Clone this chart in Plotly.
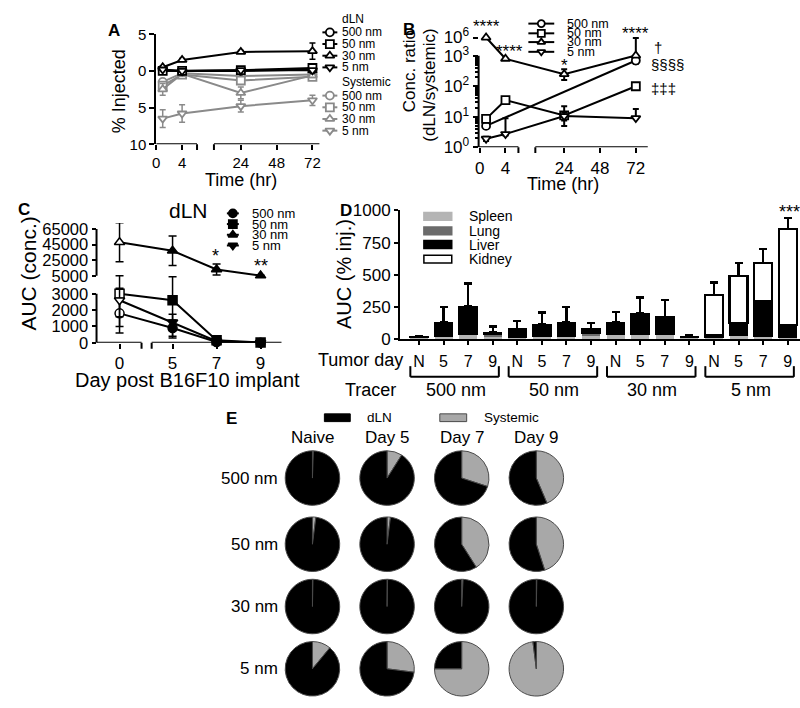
import math
import plotly.graph_objects as go

W, H = 800, 708
FONT = "Liberation Sans, Arial, Helvetica, sans-serif"
GRAY = "#8a8a8a"

# ---------------- DATA ----------------
sizes = ["500 nm", "50 nm", "30 nm", "5 nm"]
symbols = ["circle", "square", "triangle-up", "triangle-down"]

# Panel A: % injected (dLN up, systemic drawn downward)
a_hours = [1, 4, 24, 72]
a_dln_500 = [0.1, 0.0, 0.0, 0.2]
a_dln_50 = [0.0, 0.0, 0.1, 0.4]
a_dln_30 = [0.5, 1.5, 2.6, 2.7]
a_dln_5 = [0.2, 0.0, 0.1, 0.1]
a_dln_err_500 = [0.1, 0.1, 0.1, 0.2]
a_dln_err_50 = [0.1, 0.1, 0.1, 0.2]
a_dln_err_30 = [0.2, 0.2, 0.2, 1.1]
a_dln_err_5 = [0.1, 0.1, 0.1, 0.1]
a_sys_500 = [-1.5, -0.3, -0.7, -0.5]
a_sys_50 = [-2.0, -0.5, -1.3, -0.8]
a_sys_30 = [-2.5, -0.4, -3.0, -0.6]
a_sys_5 = [-6.5, -5.8, -4.8, -4.0]
a_sys_err_500 = [0.4, 0.2, 0.3, 0.3]
a_sys_err_50 = [0.5, 0.2, 0.5, 0.3]
a_sys_err_30 = [0.8, 0.3, 0.8, 0.3]
a_sys_err_5 = [1.2, 1.2, 0.8, 0.7]

# Panel B: concentration ratio dLN/systemic
b_hours = [1, 4, 24, 72]
b_500 = [5, None, None, 700]
b_50 = [8.5, 35, 11, 100]
b_30 = [1e6, 800, 250, 1100]
b_5 = [1.9, 2.7, 10.5, 9]
b_hi_500 = [1, 0, 0, 150]
b_lo_500 = [1, 0, 0, 150]
b_hi_50 = [2, 6, 11, 20]
b_lo_50 = [2, 6, 6, 20]
b_hi_30 = [0, 0, 110, 8e5]
b_lo_30 = [0, 0, 90, 0]
b_hi_5 = [0.3, 6.3, 3, 9]
b_lo_5 = [0.3, 0.3, 3, 0]
b_stars = ["****", "****", "*", "****"]

# Panel C: AUC in dLN by tumor day
c_days = [0, 5, 7, 9]
c_500 = [1800, 900, 50, 10]
c_50 = [3000, 2600, 150, 20]
c_30 = [48000, 37000, 13000, 5200]
c_5 = [2600, 1250, 100, 10]
c_err_500 = [1200, 500, 50, 5]
c_err_50 = [2000, 2300, 100, 10]
c_err_30 = [25000, 19000, 7000, 300]
c_err_5 = [1000, 500, 60, 5]

# Panel D: organ AUC (stacked)
d_tracers = ["500 nm", "50 nm", "30 nm", "5 nm"]
d_days = ["N", "5", "7", "9"]
d_spleen = [6, 18, 30, 15, 10, 12, 12, 20, 30, 35, 35, 8, 8, 20, 12, 10]
d_lung = [4, 5, 5, 20, 5, 5, 5, 25, 5, 5, 5, 4, 4, 5, 5, 5]
d_liver = [10, 106, 217, 15, 61, 97, 112, 31, 94, 157, 132, 8, 18, 101, 281, 94]
d_kidney = [None] * 12 + [310, 361, 295, 744]
d_liver_err = [5, 118, 180, 46, 63, 91, 118, 50, 81, 126, 131, 13, 8, 71, 151, 70]
d_kidney_err = [None] * 12 + [99, 101, 104, 89]

# Panel E: % systemic share of the tracer (rest = dLN)
e_cols = ["Naive", "Day 5", "Day 7", "Day 9"]
e_sys_500 = [0.5, 9, 30, 43.6]
e_sys_50 = [2, 2, 41, 45]
e_sys_30 = [0.3, 0.3, 0.8, 0.3]
e_sys_5 = [11, 27, 75, 98]

# ---------------- HELPERS ----------------
def px_x(px):
    return px / W


def px_y(py):
    return 1 - py / H


def T(t):  # broken time axis (panels A, B), units = pixels
    return 6.5 * t if t <= 6.2 else 85 + 1.5 * (t - 24)


def b_y(v):  # broken log axis of panel B
    L = math.log10(v)
    return L if L <= 3 else 3 + (L - 3) * 0.2


def c_y(v):  # broken linear axis of panel C
    if v <= 3000:
        return v / 1000
    if v < 5000:
        return 3 + (v - 3000) / 2000 * 1.1
    return 4.1 + (v - 5000) * 2.86 / 60000


def c_x(d):  # broken day axis of panel C
    return d * 10 if d < 2.5 else 53 + (d - 5) * 22


def tr_err(fn, vals, hi, lo):
    plus, minus = [], []
    for v, h, l in zip(vals, hi, lo):
        if v is None:
            plus.append(0)
            minus.append(0)
            continue
        plus.append(fn(v + h) - fn(v))
        minus.append(fn(v) - fn(max(v - l, 1e-9)) if l > 0 else 0)
    return plus, minus


fig = go.Figure()
annotations = []
shapes = []


def txt(text, px, py, size, xanchor="center", yanchor="middle", angle=0, color="black"):
    annotations.append(dict(text=text, x=px_x(px), y=px_y(py), xref="paper", yref="paper",
                            showarrow=False, xanchor=xanchor, yanchor=yanchor, textangle=angle,
                            font=dict(family=FONT, size=size, color=color)))


def seg(xref, yref, x0, y0, x1, y1, width=2, color="black"):
    shapes.append(dict(type="line", xref=xref, yref=yref, x0=x0, y0=y0, x1=x1, y1=y1,
                       line=dict(color=color, width=width)))


def axis(**kw):
    base = dict(showgrid=False, zeroline=False, ticks="outside", tickwidth=2, ticklen=5,
                tickcolor="black", linecolor="black", linewidth=2, showline=False,
                tickfont=dict(family=FONT, size=15, color="black"), fixedrange=True)
    base.update(kw)
    return base


# ---------------- PANEL A ----------------
ax_x = [T(t) for t in a_hours]
for vals, err, sym in zip([a_sys_500, a_sys_50, a_sys_30, a_sys_5],
                          [a_sys_err_500, a_sys_err_50, a_sys_err_30, a_sys_err_5], symbols):
    fig.add_trace(go.Scatter(x=ax_x, y=vals, mode="lines+markers", xaxis="x", yaxis="y",
                             line=dict(color=GRAY, width=2), cliponaxis=False, showlegend=False,
                             marker=dict(symbol=sym, size=8, color="white", line=dict(color=GRAY, width=1.8)),
                             error_y=dict(type="data", array=err, color=GRAY, thickness=1.5, width=3)))
for vals, err, sym in zip([a_dln_500, a_dln_50, a_dln_30, a_dln_5],
                          [a_dln_err_500, a_dln_err_50, a_dln_err_30, a_dln_err_5], symbols):
    fig.add_trace(go.Scatter(x=ax_x, y=vals, mode="lines+markers", xaxis="x", yaxis="y",
                             line=dict(color="black", width=2), cliponaxis=False, showlegend=False,
                             marker=dict(symbol=sym, size=8, color="white", line=dict(color="black", width=1.8)),
                             error_y=dict(type="data", array=err, color="black", thickness=1.5, width=3)))

# ---------------- PANEL B ----------------
bx = [T(t) for t in b_hours]
for vals, hi, lo, sym in zip([b_500, b_50, b_30, b_5], [b_hi_500, b_hi_50, b_hi_30, b_hi_5],
                             [b_lo_500, b_lo_50, b_lo_30, b_lo_5], symbols):
    plus, minus = tr_err(b_y, vals, hi, lo)
    fig.add_trace(go.Scatter(x=bx, y=[None if v is None else b_y(v) for v in vals],
                             mode="lines+markers", xaxis="x2", yaxis="y2", connectgaps=True,
                             line=dict(color="black", width=2), cliponaxis=False, showlegend=False,
                             marker=dict(symbol=sym, size=8, color="white", line=dict(color="black", width=1.8)),
                             error_y=dict(type="data", symmetric=False, array=plus, arrayminus=minus,
                                          color="black", thickness=2, width=3)))

# ---------------- PANEL C ----------------
cx = [c_x(d) for d in c_days]
for vals, err, sym in zip([c_500, c_50, c_30, c_5], [c_err_500, c_err_50, c_err_30, c_err_5], symbols):
    plus, minus = tr_err(c_y, vals, err, err)
    fig.add_trace(go.Scatter(x=cx, y=[c_y(v) for v in vals], mode="lines+markers", xaxis="x3", yaxis="y3",
                             line=dict(color="black", width=2), cliponaxis=False, showlegend=False,
                             marker=dict(symbol=sym, size=9, color=["white", "black", "black", "black"],
                                         line=dict(color="black", width=1.5)),
                             error_y=dict(type="data", symmetric=False, array=plus, arrayminus=minus,
                                          color="black", thickness=1.5, width=4)))

# ---------------- PANEL D ----------------
d_x = list(range(len(d_spleen)))
zeros = [0] * len(d_x)
fig.add_trace(go.Bar(x=d_x, y=d_spleen, xaxis="x4", yaxis="y4", marker=dict(color="#b5b5b5", line=dict(width=0)),
                     showlegend=False))
fig.add_trace(go.Bar(x=d_x, y=d_lung, xaxis="x4", yaxis="y4", marker=dict(color="#6b6b6b", line=dict(width=0)),
                     showlegend=False))
fig.add_trace(go.Bar(x=d_x, y=d_liver, xaxis="x4", yaxis="y4",
                     marker=dict(color="black", line=dict(color="black", width=1.5)), showlegend=False,
                     error_y=dict(type="data", symmetric=False, array=d_liver_err, arrayminus=zeros,
                                  color="black", thickness=2.2, width=4)))
fig.add_trace(go.Bar(x=d_x, y=d_kidney, xaxis="x4", yaxis="y4",
                     marker=dict(color="white", line=dict(color="black", width=2.2)), showlegend=False,
                     error_y=dict(type="data", symmetric=False, array=d_kidney_err, arrayminus=zeros,
                                  color="black", thickness=2.2, width=4)))

# ---------------- PANEL E ----------------
e_rows_px = [482, 550, 614, 678]
e_cols_px = [310, 385, 460, 535]
R = 28
for rvals, cy in zip([e_sys_500, e_sys_50, e_sys_30, e_sys_5], e_rows_px):
    for sysv, cxp in zip(rvals, e_cols_px):
        fig.add_trace(go.Pie(values=[sysv, 100 - sysv], labels=["Systemic", "dLN"], sort=False,
                             direction="clockwise", rotation=0, textinfo="none", hoverinfo="label+value",
                             marker=dict(colors=["#a8a8a8", "black"], line=dict(color="#4a4a4a", width=1)),
                             domain=dict(x=[px_x(cxp - R), px_x(cxp + R)], y=[px_y(cy + R), px_y(cy - R)]),
                             showlegend=False))

# ---------------- LEGEND KEYS (drawn on an overlay layer axis in pixel units) ----------------
def key_lines(xs, rows, color, sym_fill, line_w=2, msize=8, fill="white"):
    lx, ly = [], []
    for r in rows:
        lx += [xs[0], xs[1], None]
        ly += [r, r, None]
    fig.add_trace(go.Scatter(x=lx, y=ly, mode="lines", xaxis="x5", yaxis="y5", line=dict(color=color, width=line_w),
                             showlegend=False, hoverinfo="skip", cliponaxis=False))
    mid = (xs[0] + xs[1]) / 2
    fig.add_trace(go.Scatter(x=[mid] * len(rows), y=rows, mode="markers", xaxis="x5", yaxis="y5",
                             marker=dict(symbol=sym_fill, size=msize, color=fill, line=dict(color=color, width=1.8)),
                             showlegend=False, hoverinfo="skip", cliponaxis=False))

a_dln_rows = [24, 36, 48, 60]
a_sys_rows = [89, 101, 113, 125]
key_lines((320, 335), a_dln_rows, "black", symbols)
key_lines((320, 335), a_sys_rows, GRAY, symbols)
txt("dLN", 338, 10, 12, xanchor="left")
txt("Systemic", 338, 75, 12, xanchor="left")
for nm, r in zip(sizes, a_dln_rows):
    txt(nm, 338, r, 12, xanchor="left")
for nm, r in zip(sizes, a_sys_rows):
    txt(nm, 338, r, 12, xanchor="left")

b_rows = [15, 25, 34, 44]
key_lines((527, 553), b_rows, "black", symbols, msize=7)
for nm, r in zip(sizes, b_rows):
    txt(nm, 564, r, 12.5, xanchor="left")

c_rows = [210, 221, 232, 243]
key_lines((224, 236), c_rows, "black", symbols, msize=8, fill="black")
for nm, r in zip(sizes, c_rows):
    txt(nm, 247, r, 13, xanchor="left")

d_rows = [213, 228, 242, 257]
d_key_fill = ["#b5b5b5", "#6b6b6b", "black", "white"]
for nm, r, col in zip(["Spleen", "Lung", "Liver", "Kidney"], d_rows, d_key_fill):
    shapes.append(dict(type="rect", xref="paper", yref="paper", x0=px_x(422), x1=px_x(450),
                       y0=px_y(r + 4), y1=px_y(r - 4), fillcolor=col,
                       line=dict(color="black" if col in ("black", "white") else col, width=1.5)))
    txt(nm, 465, r, 14, xanchor="left")

shapes.append(dict(type="rect", xref="paper", yref="paper", x0=px_x(322), x1=px_x(348),
                   y0=px_y(424), y1=px_y(416), fillcolor="black", line=dict(color="black", width=1)))
shapes.append(dict(type="rect", xref="paper", yref="paper", x0=px_x(438), x1=px_x(465),
                   y0=px_y(424), y1=px_y(416), fillcolor="#a8a8a8", line=dict(color="#4a4a4a", width=1)))
txt("dLN", 363, 420, 13.5, xanchor="left")
txt("Systemic", 480, 420, 13.5, xanchor="left")

# ---------------- AXES ----------------
layout_axes = {}
# A
layout_axes["xaxis"] = axis(domain=[px_x(153), px_x(320)], range=[0, 167], anchor="y",
                            tickvals=[T(t) for t in [0, 4, 24, 48, 72]],
                            ticktext=["0", "4", "24", "48", "72"])
layout_axes["yaxis"] = axis(domain=[px_y(139), px_y(26)], range=[-10, 5], anchor="x", showline=True,
                            tickvals=[5, 0, -5, -10], ticktext=["5", "0", "5", "10"])
seg("x", "y", 0, -10, 41, -10)
seg("x", "y", 58, -10, 164, -10)
for xb in (41, 58):
    seg("x", "paper", xb, px_y(139), xb, px_y(145))
# B
layout_axes["xaxis2"] = axis(domain=[px_x(477), px_x(650)], range=[-1, 172], anchor="y2",
                             tickvals=[T(t) for t in [0, 4, 24, 48, 72]],
                             ticktext=["0", "4", "24", "48", "72"], tickfont=dict(family=FONT, size=17))
minor_b = [math.log10(k * 10 ** d) for d in range(3) for k in range(2, 10)]
layout_axes["yaxis2"] = axis(domain=[px_y(142), px_y(24)], range=[0, 3.77], anchor="x2",
                             tickvals=[0, 1, 2, 3, b_y(1e6)],
                             ticktext=["10<sup>0</sup>", "10<sup>1</sup>", "10<sup>2</sup>", "10<sup>3</sup>",
                                       "10<sup>6</sup>"],
                             tickfont=dict(family=FONT, size=17),
                             minor=dict(tickvals=minor_b, ticklen=3, tickwidth=2, tickcolor="black", ticks="outside"))
seg("x2", "y2", -1, 0, 39, 0)
seg("x2", "y2", 56, 0, 169, 0)
seg("x2 domain", "y2", 0, 0, 0, 3)
for xb in (39, 56):
    seg("x2", "paper", xb, px_y(142), xb, px_y(148))
# C
layout_axes["xaxis3"] = axis(domain=[px_x(93), px_x(280)], range=[c_x(-2.3), c_x(10)], anchor="y3",
                             tickvals=[c_x(d) for d in c_days],
                             ticktext=["0", "5", "7", "9"], tickfont=dict(family=FONT, size=17))
layout_axes["yaxis3"] = axis(domain=[px_y(343), px_y(220)], range=[0, 7.32], anchor="x3", ticklen=4,
                             tickvals=[c_y(v) for v in [0, 1000, 2000, 3000, 5000, 25000, 45000, 65000]],
                             ticktext=["0", "1000", "2000", "3000", "5000", "25000", "45000", "65000"],
                             tickfont=dict(family=FONT, size=16.5))
seg("x3", "y3", c_x(-2.3), 0, c_x(2.2), 0)
seg("x3", "y3", c_x(4.05), 0, c_x(9.95), 0)
seg("x3 domain", "y3", 0, 0, 0, 3)
seg("x3 domain", "y3", 0, c_y(5000), 0, c_y(65000))
for d in (2.2, 4.05):
    seg("x3", "paper", c_x(d), px_y(343), c_x(d), px_y(349))
# D
layout_axes["xaxis4"] = axis(domain=[px_x(398), 1.0], range=[-0.77, 15.5], anchor="y4", showline=True,
                             tickvals=d_x, ticktext=d_days * 4, ticklen=4, ticklabelstandoff=3,
                             tickfont=dict(family=FONT, size=16))
layout_axes["yaxis4"] = axis(domain=[px_y(339), px_y(207)], range=[0, 1000], anchor="x4", showline=True,
                             ticklen=4, tickvals=[0, 250, 500, 750, 1000], tickfont=dict(family=FONT, size=17))
for g in range(4):
    x0, x1 = 4 * g - 0.35, 4 * g + 3.25
    seg("x4", "paper", x0, px_y(367), x0, px_y(378))
    seg("x4", "paper", x1, px_y(367), x1, px_y(378))
    seg("x4", "paper", x0, px_y(378), x1, px_y(378))
for g, nm in enumerate(d_tracers):
    annotations.append(dict(text=nm, x=4 * g + 1.5, y=px_y(391), xref="x4", yref="paper", showarrow=False,
                            xanchor="center", yanchor="middle",
                            font=dict(family=FONT, size=18, color="black")))
# overlay layer in pixels for legend keys
layout_axes["xaxis5"] = dict(domain=[0, 1], range=[0, W], visible=False, fixedrange=True, anchor="y5")
layout_axes["yaxis5"] = dict(domain=[0, 1], range=[H, 0], visible=False, fixedrange=True, anchor="x5")

# ---------------- TEXT ----------------
for letter, px, py in [("A", 111, 22), ("B", 407, 21), ("C", 20, 206), ("D", 344, 207), ("E", 229, 421)]:
    txt("<b>" + letter + "</b>", px, py, 17)
# A titles
txt("% Injected", 115, 84, 18, angle=-90)
txt("Time (hr)", 238, 176, 18)
# B titles and marks
txt("Conc. ratio", 407, 64, 17, angle=-90)
txt("(dLN/systemic)", 428, 78, 17, angle=-90)
txt("Time (hr)", 562, 180, 18)
for t, s, py in zip(b_hours, b_stars, [18, 44, 58, 25]):
    px = 478 + T(t)
    if t == 4:
        px = 508
    txt(s, px, py, 17)
txt("†", 651, 40, 15, xanchor="left")
txt("§§§§", 648, 57, 15, xanchor="left")
txt("‡‡‡", 648, 82, 15, xanchor="left")
# C titles
txt("dLN", 185, 207, 21)
txt("AUC (conc.)", 25, 272, 21, angle=-90)
txt("Day post B16F10 implant", 184, 381, 20)
txt("*", 213, 254, 18)
txt("**", 258, 264, 18)
# D titles
txt("AUC (% inj.)", 341, 272, 20, angle=-90)
txt("Tumor day", 403, 361, 18, xanchor="right")
txt("Tracer", 396, 391, 18, xanchor="right")
txt("***", 789, 209, 18)
# E titles
for nm, cxp in zip(e_cols, e_cols_px):
    txt(nm, cxp, 440, 17)
for nm, cy in zip(sizes, e_rows_px):
    txt(nm, 277, cy, 17, xanchor="right")

fig.update_layout(width=W, height=H, margin=dict(l=0, r=0, t=0, b=0), paper_bgcolor="white",
                  plot_bgcolor="rgba(0,0,0,0)", barmode="stack", bargap=0.27, showlegend=False,
                  annotations=annotations, shapes=shapes, font=dict(family=FONT, color="black"),
                  **layout_axes)

fig.write_html("out.html", config={"displayModeBar": False},
               post_script="document.body.style.margin='0px';document.body.style.overflow='hidden';")
